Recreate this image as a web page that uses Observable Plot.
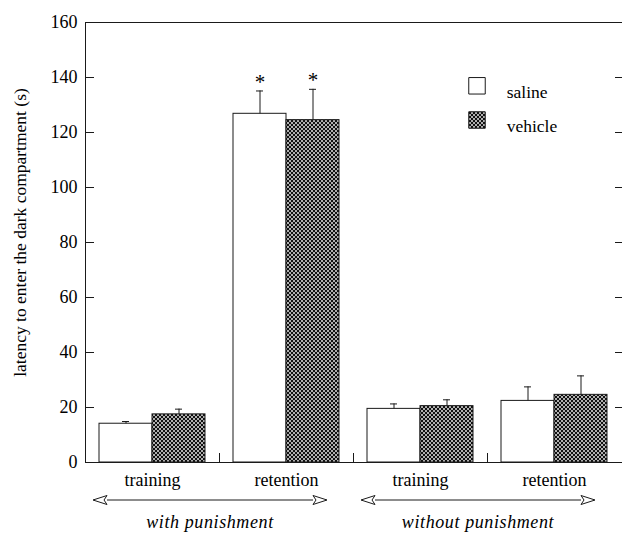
<!DOCTYPE html>
<html><head><meta charset="utf-8">
<script src="https://cdn.jsdelivr.net/npm/d3@7"></script>
<script src="https://cdn.jsdelivr.net/npm/@observablehq/plot@0.6"></script>
<style>html,body{margin:0;padding:0;background:#fff;overflow:hidden} svg{display:block}</style>
</head><body><div id="chart"></div>
<script>
// ---- data ----
const phaseKeys = ["wp-training", "wp-retention", "np-training", "np-retention"];
const phaseLabels = ["training", "retention", "training", "retention"];
const groupLabels = ["with punishment", "without punishment"];
const treatments = ["saline", "vehicle"];
const salineMean = [14.1, 126.8, 19.5, 22.4];
const salineSem = [0.8, 8.3, 1.8, 5.1];
const vehicleMean = [17.5, 124.5, 20.5, 24.6];
const vehicleSem = [1.9, 11.2, 2.3, 6.9];
const salineSig = [false, true, false, false];
const vehicleSig = [false, true, false, false];
const yTicks = [0, 20, 40, 60, 80, 100, 120, 140, 160];
const yLabel = "latency to enter the dark compartment (s)";

const rows = [];
phaseKeys.forEach((p, i) => {
  rows.push({phase: p, treatment: "saline", mean: salineMean[i], sem: salineSem[i], sig: salineSig[i]});
  rows.push({phase: p, treatment: "vehicle", mean: vehicleMean[i], sem: vehicleSem[i], sig: vehicleSig[i]});
});

const W = 622, H = 533, mT = 22, mB = 71, mL = 84, mR = 0;
const plotH = H - mT - mB;
const ink = "#1a1a1a";

const plot = Plot.plot({
  width: W, height: H,
  marginTop: mT, marginBottom: mB, marginLeft: mL, marginRight: mR,
  style: {fontFamily: "'Liberation Serif', 'Times New Roman', serif", fontSize: "18px", background: "#fff", color: "#000", overflow: "visible"},
  fx: {domain: phaseKeys, padding: 0, label: null},
  x: {domain: treatments, paddingInner: 0, paddingOuter: 0.245, axis: null},
  y: {domain: [0, 160]},
  color: {domain: treatments, range: ["#ffffff", "url(#stipple)"]},
  marks: [
    Plot.barY(rows, {fx: "phase", x: "treatment", y: "mean", fill: "treatment", stroke: ink, strokeWidth: 1}),
    Plot.ruleX(rows, {fx: "phase", x: "treatment", y1: "mean", y2: d => d.mean + d.sem, stroke: ink}),
    Plot.tickY(rows, {fx: "phase", x: "treatment", y: d => d.mean + d.sem, stroke: ink, inset: 23}),
    Plot.text(rows.filter(d => d.sig), {fx: "phase", x: "treatment", y: d => d.mean + d.sem, text: () => "*", lineAnchor: "bottom", dy: -2, fontSize: 21}),
    Plot.frame({anchor: "top", stroke: ink}),
    Plot.frame({anchor: "bottom", stroke: ink}),
    Plot.frame({anchor: "left", facetAnchor: "left", stroke: ink}),
    Plot.frame({anchor: "left", insetTop: plotH - 9, stroke: ink}),
    Plot.axisY({anchor: "left", ticks: yTicks, tickSize: -9, tickPadding: 17, label: null, fontSize: 18, stroke: ink}),
    Plot.axisY({anchor: "right", ticks: yTicks, tickSize: -7, tickFormat: () => "", label: null, stroke: ink}),
    Plot.axisFx({anchor: "bottom", tickSize: 0, tickPadding: 11, label: null, fontSize: 18,
      tickFormat: d => phaseLabels[phaseKeys.indexOf(d)]}),
    Plot.text([yLabel], {x: null, y: null, text: d => d, frameAnchor: "left", facetAnchor: "left", textAnchor: "middle",
      rotate: -90, dx: -65, dy: -10, fontSize: 17.5}),
    ...treatments.flatMap((t, i) => [
      Plot.dot([t], {x: null, y: null, frameAnchor: "top-left", facetAnchor: "right", dx: -10.5, dy: 63.3 + 34.2 * i,
        symbol: "square", r: 9.3, fill: d => d, stroke: ink, strokeWidth: 1}),
      Plot.text([t], {x: null, y: null, frameAnchor: "top-left", facetAnchor: "right", dx: 19.2, dy: 63.3 + 34.2 * i,
        text: d => d, textAnchor: "start", fontSize: 17.5})
    ])
  ]
});

const svg = d3.select(plot);
const defs = svg.insert("defs", ":first-child");
const pat = defs.append("pattern").attr("id", "stipple").attr("width", 4).attr("height", 4).attr("patternUnits", "userSpaceOnUse");
pat.append("rect").attr("width", 4).attr("height", 4).attr("fill", "#b0b0b0");
pat.append("rect").attr("width", 2).attr("height", 2).attr("fill", "#111");
pat.append("rect").attr("x", 2).attr("y", 2).attr("width", 2).attr("height", 2).attr("fill", "#111");

// group annotation (double arrows + italic labels) positioned from the fx scale
const fxs = plot.scale("fx");
const ann = svg.append("g").attr("class", "groups");
const arrowY = H - mB + 38, labelY = H - mB + 66, half = 117, headL = 14, headH = 4.5;
groupLabels.forEach((g, gi) => {
  const a = fxs.apply(phaseKeys[2 * gi]);
  const b = fxs.apply(phaseKeys[2 * gi + 1]) + fxs.bandwidth;
  const c = (a + b) / 2 - 9;
  const xl = c - half, xr = c + half;
  ann.append("line").attr("x1", xl + headL).attr("x2", xr - headL).attr("y1", arrowY).attr("y2", arrowY).attr("stroke", ink);
  ann.append("path").attr("d", `M${xl},${arrowY}L${xl + headL},${arrowY - headH}L${xl + headL - 3},${arrowY}L${xl + headL},${arrowY + headH}Z`)
    .attr("fill", "#fff").attr("stroke", ink);
  ann.append("path").attr("d", `M${xr},${arrowY}L${xr - headL},${arrowY - headH}L${xr - headL + 3},${arrowY}L${xr - headL},${arrowY + headH}Z`)
    .attr("fill", "#fff").attr("stroke", ink);
  ann.append("text").attr("x", c).attr("y", labelY).attr("text-anchor", "middle")
    .attr("font-style", "italic").attr("font-size", 18).attr("letter-spacing", 0.6).text(g);
});

document.getElementById("chart").appendChild(plot);
</script>
</body></html>
